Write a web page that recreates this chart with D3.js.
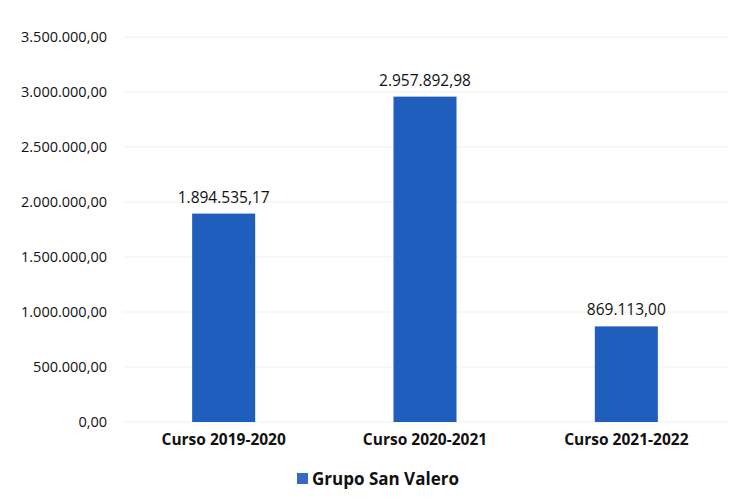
<!DOCTYPE html>
<html>
<head>
<meta charset="utf-8">
<script src="https://cdn.jsdelivr.net/npm/d3@7"></script>
<style>
    body { margin: 0; background: #fff; }
    text { font-family: "Open Sans", sans-serif; fill: #111; }
</style>
</head>
<body>
<svg id="chart" width="748" height="501"></svg>
<script>
// Chart data
const categories = ["Curso 2019-2020", "Curso 2020-2021", "Curso 2021-2022"];
const values = [1894535.17, 2957892.98, 869113.00];
const seriesName = "Grupo San Valero";
const yTicks = [0, 500000, 1000000, 1500000, 2000000, 2500000, 3000000, 3500000];

const svg = d3.select("#chart");

// Spanish number format: 1.234.567,89
const es = d3.formatLocale({ decimal: ",", thousands: ".", grouping: [3], currency: ["", "€"] });
const fmt = es.format(",.2f");

// Scales
const x = d3.scaleBand()
    .domain(categories)
    .range([123, 727])
    .paddingInner(0.687)
    .paddingOuter(0.3435);

const y = d3.scaleLinear()
    .domain([0, 3500000])
    .range([422, 37]);

// Faint gridlines
svg.append("g")
    .selectAll("line")
    .data(yTicks)
    .join("line")
    .attr("x1", 123)
    .attr("x2", 727)
    .attr("y1", d => y(d))
    .attr("y2", d => y(d))
    .attr("stroke", "#efefef")
    .attr("stroke-width", 1);

// Y axis
const yAxis = svg.append("g")
    .attr("transform", "translate(109,0)")
    .call(d3.axisLeft(y).tickValues(yTicks).tickFormat(fmt).tickSize(0).tickPadding(2));
yAxis.select(".domain").remove();
yAxis.selectAll("text")
    .style("font-size", "14.5px")
    .style("font-family", "'Open Sans', sans-serif")
    .attr("fill", "#111");

// X axis
const xAxis = svg.append("g")
    .attr("transform", "translate(0,422)")
    .call(d3.axisBottom(x).tickSize(0).tickPadding(12));
xAxis.select(".domain").remove();
xAxis.selectAll("text")
    .style("font-size", "15.5px")
    .style("font-weight", "bold")
    .style("font-family", "'Open Sans', sans-serif")
    .attr("fill", "#111");

// Bars
svg.append("g")
    .selectAll("rect")
    .data(values)
    .join("rect")
    .attr("x", (d, i) => x(categories[i]))
    .attr("y", d => y(d))
    .attr("width", x.bandwidth())
    .attr("height", d => y(0) - y(d))
    .attr("fill", "#1f5ebd");

// Value labels
svg.append("g")
    .selectAll("text")
    .data(values)
    .join("text")
    .attr("x", (d, i) => x(categories[i]) + x.bandwidth() / 2)
    .attr("y", d => y(d) - 11)
    .attr("text-anchor", "middle")
    .style("font-size", "15.5px")
    .text(d => fmt(d));

// Legend
const legend = svg.append("g").attr("transform", "translate(297,473)");
legend.append("rect")
    .attr("width", 11)
    .attr("height", 11)
    .attr("fill", "#3a67c6");
legend.append("text")
    .attr("x", 15)
    .attr("y", 12)
    .style("font-size", "17px")
    .style("font-weight", "bold")
    .text(seriesName);
</script>
</body>
</html>
